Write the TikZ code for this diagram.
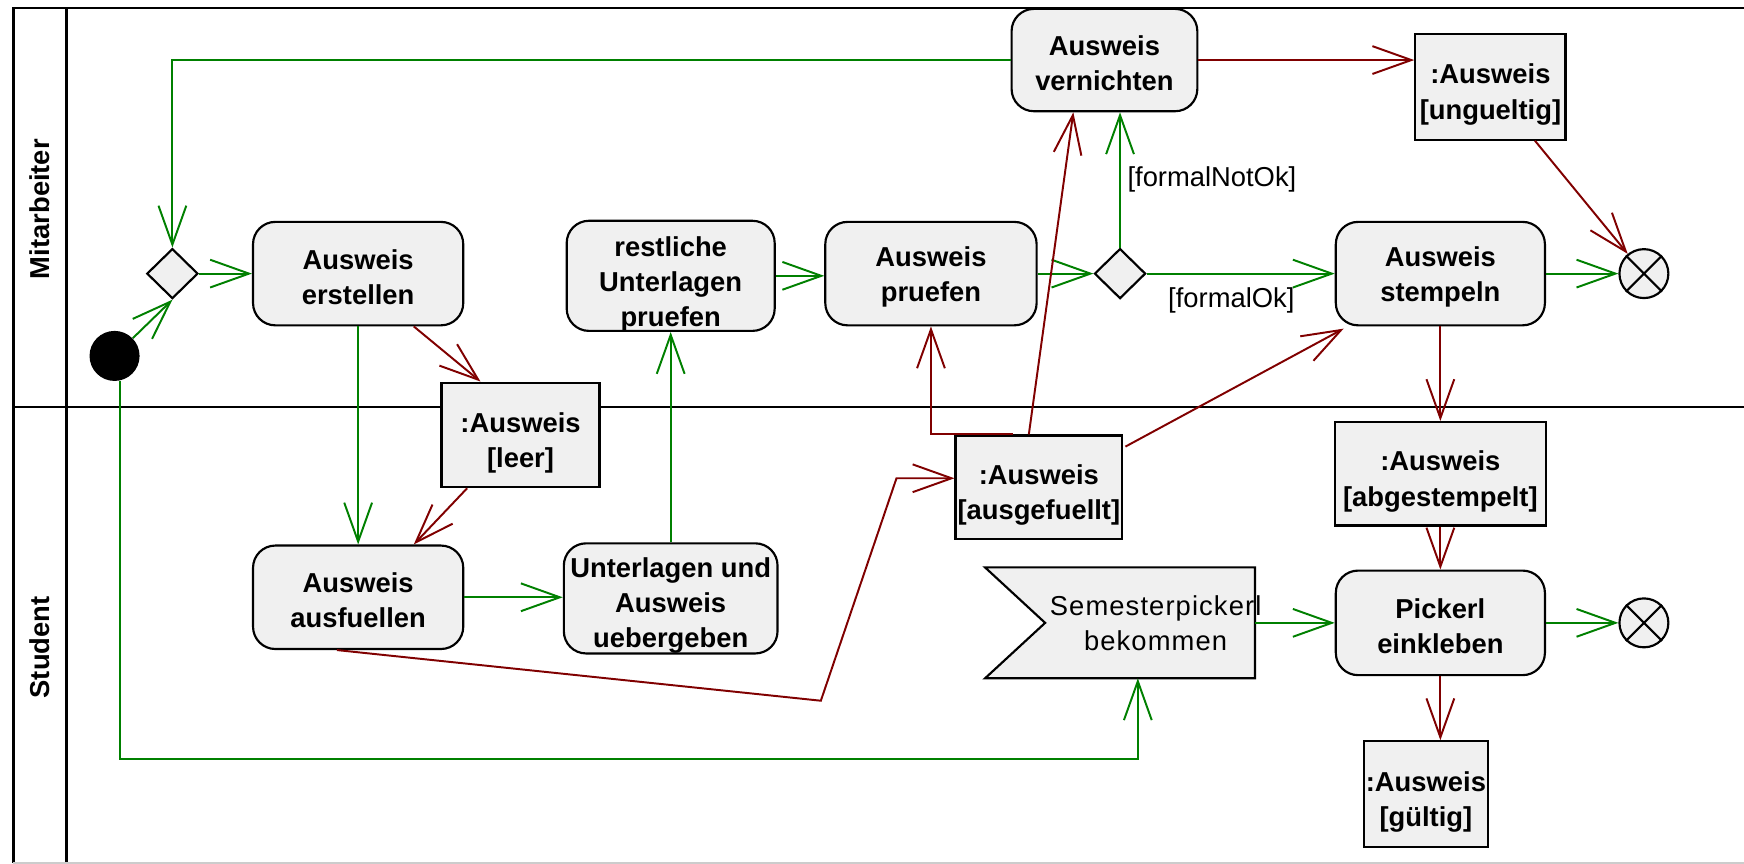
\documentclass[tikz,border=0pt]{standalone}
\usepackage{fontspec}
\setmainfont{Liberation Sans}
\usepackage{xcolor}
\usepackage{tikz}
\usetikzlibrary{arrows.meta,shapes.geometric,calc,positioning}

\definecolor{flowgreen}{RGB}{0,128,0}
\definecolor{objred}{RGB}{128,0,0}
\definecolor{boxgray}{RGB}{240,240,240}

\tikzset{
  actbox/.style={draw, line width=1.1pt, fill=boxgray, rounded corners=4mm, align=center,
    minimum width=37.8mm, minimum height=18.6mm, text height=31.5pt,
    font=\bfseries\fontsize{14}{18}\selectfont},
  tallbox/.style={actbox, minimum width=37.4mm, minimum height=19.8mm, inner ysep=1pt,
    text depth=0pt},
  objbox/.style={draw, line width=1.1pt, fill=boxgray, align=center, inner xsep=1pt,
    minimum height=18.8mm, text height=36pt, font=\bfseries\fontsize{14}{18}\selectfont},
  choice/.style={diamond, draw, line width=1.1pt, fill=boxgray, minimum width=9.2mm,
    minimum height=9mm, inner sep=0pt},
  startnode/.style={circle, fill=black, minimum size=9mm, inner sep=0pt},
  endnode/.style={circle, draw, line width=1.1pt, fill=boxgray, minimum size=8.8mm, inner sep=0pt},
  flow/.style={draw=flowgreen, line width=1pt, -{Straight Barb[length=7mm,width=5mm]}},
  objflow/.style={draw=objred, line width=1pt, -{Straight Barb[length=7mm,width=5mm]}},
  guard/.style={font=\fontsize{14}{18}\selectfont},
  lane/.style={line width=1.3pt},
  lanelabel/.style={rotate=90, font=\bfseries\fontsize{14}{18}\selectfont},
}

\begin{document}
\begin{tikzpicture}[x=0.2mm, y=-0.2mm]
\useasboundingbox (0,0) rectangle (1568,776);

% swimlanes
\draw[lane] (12,776) -- (12,7) -- (1568,7);
\draw[lane] (60,7) -- (60,776);
\draw[lane] (12,366) -- (1568,366);
\draw[gray!40, line width=1pt] (12,775.5) -- (1568,775.5);
\node[lanelabel] (lmit) at (36,188) {Mitarbeiter};
\node[lanelabel] (lstud) at (36,582) {Student};

% Mitarbeiter
\node[startnode] (init) at (103,320) {};
\node[choice] (merge) at (155,246) {};
\node[actbox] (erstellen) at (322,246) {Ausweis\\erstellen};
\node[tallbox, text height=52.3pt] (restl) at (603,248) {restliche\\Unterlagen\\pruefen};
\node[actbox, minimum width=38mm] (pruefen) at (837,246) {Ausweis\\pruefen};
\node[choice] (dec) at (1007,246) {};
\node[actbox, minimum width=33.4mm, minimum height=18.4mm] (vernichten) at (993,54) {Ausweis\\vernichten};
\node[objbox, minimum width=27mm, minimum height=19mm] (ungueltig) at (1340,78) {:Ausweis\\{}[ungueltig]};
\node[actbox, minimum width=37.6mm] (stempeln) at (1295,246) {Ausweis\\stempeln};
\node[endnode] (fin1) at (1478,246) {};
\draw[line width=1.1pt] (fin1.north west) -- (fin1.south east) (fin1.north east) -- (fin1.south west);

% Student
\node[objbox, minimum width=28.4mm] (leer) at (468,391) {:Ausweis\\{}[leer]};
\node[objbox, minimum width=28.6mm, minimum height=18.6mm] (ausg) at (934,438) {:Ausweis\\{}[ausgefuellt]};
\node[objbox, minimum width=38mm, minimum height=18.6mm] (abgest) at (1295,426) {:Ausweis\\{}[abgestempelt]};
\node[actbox] (ausfuellen) at (322,537) {Ausweis\\ausfuellen};
\node[tallbox, text height=50.7pt] (uebergeben) at (603,538) {Unterlagen und\\Ausweis\\uebergeben};
\node[minimum width=48.4mm, minimum height=19.8mm, inner sep=0pt] (sem) at (1007,560) {};
\filldraw[fill=boxgray, line width=1.1pt] (sem.north west) -- (sem.north east) -- (sem.south east)
  -- (sem.south west) -- ($(sem.west)+(54,0)$) -- cycle;
\node[align=center, font=\fontsize{14}{18}\selectfont\addfontfeatures{LetterSpace=4}] (semtext) at (1039,560) {Semesterpickerl\\bekommen};
\node[actbox, minimum width=37.6mm, minimum height=18.8mm] (einkleben) at (1295,560) {Pickerl\\einkleben};
\node[endnode] (fin2) at (1478,560) {};
\draw[line width=1.1pt] (fin2.north west) -- (fin2.south east) (fin2.north east) -- (fin2.south west);
\node[objbox, minimum width=22.4mm, minimum height=19mm] (gueltig) at (1282,714) {:Ausweis\\{}[gültig]};

% control flow
\coordinate (turn1) at (108,682);
\draw[flow] (init) -- (merge.south);
\draw[flow] (merge) -- (erstellen);
\draw[flow] (erstellen) -- (ausfuellen);
\draw[flow] (ausfuellen) -- (ausfuellen -| uebergeben.west);
\draw[flow] (uebergeben) -- (restl);
\draw[flow] (restl) -- (restl -| pruefen.west);
\draw[flow] (pruefen) -- (dec);
\draw[flow] (dec) -- node[guard, right] (gnotok) {[formalNotOk]} (dec |- vernichten.south);
\draw[flow] (dec) -- node[guard, below=3.4pt, pos=0.45] (gok) {[formalOk]} (stempeln);
\draw[flow] (vernichten) -| (merge);
\draw[flow] (stempeln) -- (fin1);
\draw[flow] (init.south -| turn1) -- (turn1) -| ($(sem.south)+(16,0)$);
\draw[flow] (sem) -- (einkleben);
\draw[flow] (einkleben) -- (fin2);

% object flow
\coordinate (kink1) at (738,630);
\coordinate (kink2) at (806,430);
\draw[objflow] ($(erstellen.south)+(50,0)$) -- ($(leer.north)+(-36,0)$);
\draw[objflow] ($(leer.south)+(-48,0)$) -- ($(ausfuellen.north)+(50,0)$);
\draw[objflow] ($(ausfuellen.south)+(-19,0)$) -- (kink1) -- (kink2) -- (kink2 -| ausg.west);
\draw[objflow] ($(ausg.north)+(-23,0)$) -| (pruefen.south);
\draw[objflow] ($(ausg.north)+(-9,0)$) -- ($(vernichten.south)+(-28,0)$);
\draw[objflow] ($(ausg.north east)+(2,11)$) -- ($(stempeln.south west)+(8,2)$);
\draw[objflow] (vernichten) -- (vernichten -| ungueltig.west);
\draw[objflow] ($(ungueltig.south)+(40,0)$) -- (fin1);
\draw[objflow] (stempeln) -- (abgest);
\draw[objflow] (abgest) -- (einkleben);
\draw[objflow] (einkleben) -- (einkleben |- gueltig.north);
\end{tikzpicture}
\end{document}
